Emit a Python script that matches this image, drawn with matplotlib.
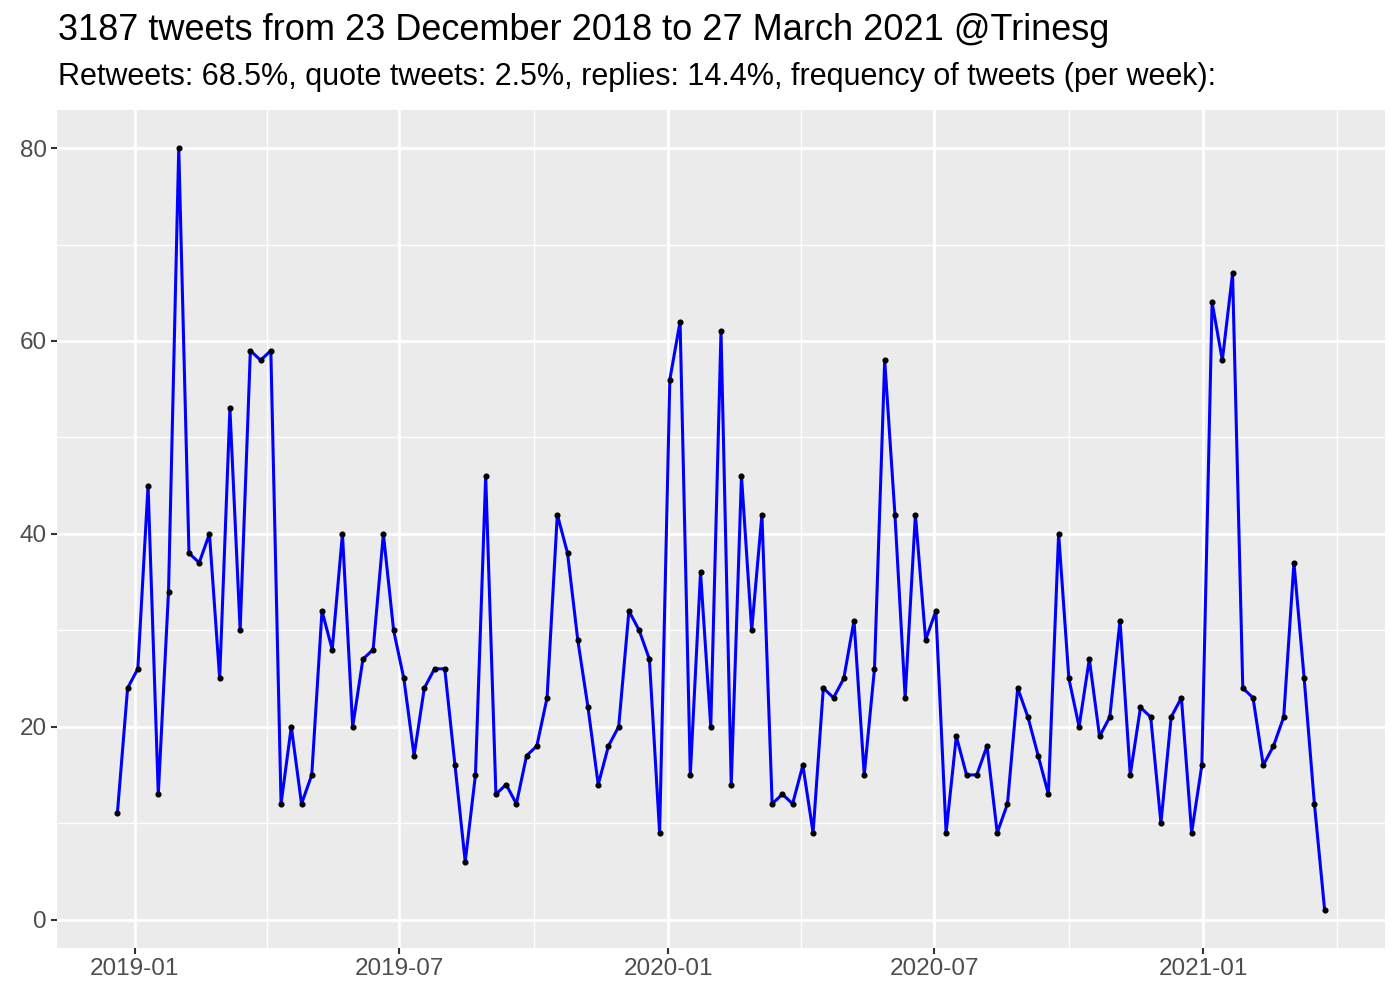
import numpy as np
import pandas as pd
import matplotlib
matplotlib.use("Agg")
import matplotlib.pyplot as plt
import matplotlib.dates as mdates

plt.rcParams['font.family'] = ['Liberation Sans', 'DejaVu Sans']

# weekly tweet counts, first week at 2018-12-20
start_date = "2018-12-20"
counts = [11, 24, 26, 45, 13, 34, 80, 38, 37, 40,
          25, 53, 30, 59, 58, 59, 12, 20, 12, 15,
          32, 28, 40, 20, 27, 28, 40, 30, 25, 17,
          24, 26, 26, 16, 6, 15, 46, 13, 14, 12,
          17, 18, 23, 42, 38, 29, 22, 14, 18, 20,
          32, 30, 27, 9, 56, 62, 15, 36, 20, 61,
          14, 46, 30, 42, 12, 13, 12, 16, 9, 24,
          23, 25, 31, 15, 26, 58, 42, 23, 42, 29,
          32, 9, 19, 15, 15, 18, 9, 12, 24, 21,
          17, 13, 40, 25, 20, 27, 19, 21, 31, 15,
          22, 21, 10, 21, 23, 9, 16, 64, 58, 67,
          24, 23, 16, 18, 21, 37, 25, 12, 1]
weeks = pd.date_range(start_date, periods=len(counts), freq="7D")

x_breaks = ["2019-01-01", "2019-07-01", "2020-01-01", "2020-07-01", "2021-01-01"]
x_labels = ["2019-01", "2019-07", "2020-01", "2020-07", "2021-01"]
y_breaks = [0, 20, 40, 60, 80]

title = "3187 tweets from 23 December 2018 to 27 March 2021 @Trinesg"
subtitle = ("Retweets: 68.5%, quote tweets: 2.5%, replies: 14.4%, "
            "frequency of tweets (per week):")

fig = plt.figure(figsize=(14, 10), dpi=100)
ax = fig.add_axes([57 / 1400, 1 - 948 / 1000, (1385 - 57) / 1400, (948 - 110) / 1000])
ax.set_facecolor("#EBEBEB")

xnum = mdates.date2num(weeks)
ax.plot(xnum, counts, color="blue", lw=2.2, zorder=3)
ax.plot(xnum, counts, "o", color="black", ms=3.4, zorder=4)

# ggplot-like expansion (5%)
xr = xnum.max() - xnum.min()
ax.set_xlim(xnum.min() - 0.05 * xr, xnum.max() + 0.05 * xr)
yr = max(counts) - min(counts)
ax.set_ylim(min(counts) - 0.05 * yr, max(counts) + 0.05 * yr)

xb = mdates.date2num(pd.to_datetime(x_breaks))
ax.set_xticks(xb)
ax.set_xticklabels(x_labels)
ax.set_yticks(y_breaks)

# minor grid lines halfway between major breaks
step = np.diff(xb).mean()
xminor = np.concatenate([[xb[0] - step / 2], (xb[:-1] + xb[1:]) / 2, [xb[-1] + step / 2]])
yminor = [b + 10 for b in y_breaks[:-1]] + [-10, 90]
for v in xminor:
    ax.axvline(v, color="white", lw=1.0, zorder=1)
for v in yminor:
    ax.axhline(v, color="white", lw=1.0, zorder=1)
for v in xb:
    ax.axvline(v, color="white", lw=2.0, zorder=1)
for v in y_breaks:
    ax.axhline(v, color="white", lw=2.0, zorder=1)

for s in ax.spines.values():
    s.set_visible(False)
ax.tick_params(axis="both", colors="#333333", length=4, width=1.5,
               labelsize=17.5, labelcolor="#4D4D4D", pad=3.5)

fig.text(58 / 1400, 1 - 31 / 1000, title, fontsize=26, va="center", ha="left")
fig.text(58 / 1400, 1 - 77 / 1000, subtitle, fontsize=22, va="center", ha="left")

fig.savefig("out.png", dpi=100)
